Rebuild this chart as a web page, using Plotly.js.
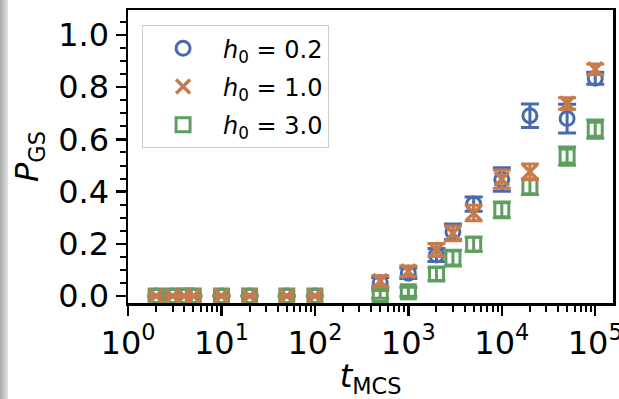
<!DOCTYPE html>
<html>
<head>
<meta charset="utf-8">
<script src="https://cdn.plot.ly/plotly-3.0.1.min.js"></script>
<style>
  html, body { margin: 0; padding: 0; }
  body {
    width: 619px; height: 399px; overflow: hidden;
    background: linear-gradient(to right, #a9a9a9 0px, #cfcfcf 5px, #e2e2e2 8px, #ffffff 8px, #ffffff 100%);
  }
  #chart { width: 619px; height: 399px; }
</style>
</head>
<body>
<div id="chart"></div>
<script>
// Monte Carlo sweeps
const tMCS = [2, 3, 4, 5, 10, 20, 50, 100, 500, 1000, 2000, 3000, 5000, 10000, 20000, 50000, 100000];

// ground-state probability for h0 = 0.2
const pGS_h02 = [0, 0, 0, 0, 0, 0, 0, 0, 0.051, 0.087, 0.157, 0.246, 0.352, 0.446, 0.691, 0.680, 0.834];
const err_h02 = [0, 0, 0, 0, 0, 0, 0, 0, 0.020, 0.020, 0.025, 0.030, 0.027, 0.045, 0.045, 0.055, 0.023];

// h0 = 1.0
const pGS_h10 = [0, 0, 0, 0, 0, 0, 0, 0, 0.057, 0.095, 0.176, 0.240, 0.318, 0.448, 0.476, 0.738, 0.869];
const err_h10 = [0, 0, 0, 0, 0, 0, 0, 0, 0.020, 0.020, 0.025, 0.028, 0.030, 0.035, 0.030, 0.022, 0.020];

// h0 = 3.0
const pGS_h30 = [0, 0, 0, 0, 0, 0, 0, 0, 0.006, 0.016, 0.084, 0.145, 0.198, 0.330, 0.419, 0.536, 0.639];
const err_h30 = [0, 0, 0, 0, 0, 0, 0, 0, 0.015, 0.017, 0.025, 0.030, 0.027, 0.030, 0.030, 0.035, 0.035];

const seriesNames = ['<i>h</i><sub>0</sub> = 0.2', '<i>h</i><sub>0</sub> = 1.0', '<i>h</i><sub>0</sub> = 3.0'];

const xTickVals = [1, 10, 100, 1000, 10000, 100000];
const xTickText = ['10<sup>0</sup>', '10<sup>1</sup>', '10<sup>2</sup>', '10<sup>3</sup>', '10<sup>4</sup>', '10<sup>5</sup>'];

const colors = { blue: '#4a6aae', orange: '#c67b4c', green: '#5f9e5f' };

// minor log ticks 2..9 in each decade
const xMinor = [];
for (let d = 0; d <= 5; d++) for (let k = 2; k <= 9; k++) xMinor.push(k * Math.pow(10, d));

function trace(y, err, name, color, symbol, size, lw, rank) {
  return {
    x: tMCS, y: y, name: name, type: 'scatter', mode: 'markers',
    legendrank: rank, legendgroup: 'g' + rank,
    marker: { symbol: symbol, size: size, color: color, line: { color: color, width: lw } },
    error_y: { type: 'data', array: err, visible: true, color: color, thickness: 3, width: 9 },
    cliponaxis: false
  };
}

const data = [
  trace(pGS_h02, err_h02, seriesNames[0], colors.blue, 'circle-open', 14, 3, 1),
  trace(pGS_h30, err_h30, seriesNames[2], colors.green, 'square-open', 14, 3, 3),
  trace(pGS_h10, err_h10, seriesNames[1], colors.orange, 'x-thin-open', 14, 3.5, 2)
];

const font = 'DejaVu Sans, sans-serif';

const layout = {
  width: 619, height: 399,
  margin: { l: 128, r: 6, t: 10, b: 96, pad: 0 },
  paper_bgcolor: 'rgba(0,0,0,0)',
  plot_bgcolor: '#ffffff',
  font: { family: font, color: '#000000', size: 32 },
  showlegend: true,
  legend: {
    x: 0.029, y: 0.948, xanchor: 'left', yanchor: 'top',
    bgcolor: 'rgba(255,255,255,0.85)', bordercolor: '#cccccc', borderwidth: 1,
    font: { family: font, size: 24, color: '#000000' },
    traceorder: 'grouped', tracegroupgap: 4, itemwidth: 70
  },
  xaxis: {
    type: 'log', range: [0, 5.19],
    tickmode: 'array', tickvals: xTickVals, ticktext: xTickText,
    ticks: 'outside', ticklen: 10, tickwidth: 2.5, tickcolor: '#000',
    showline: true, linecolor: '#000', linewidth: 2.5, mirror: true,
    showgrid: false, zeroline: false,
    ticklabeloverflow: 'allow',
    tickfont: { family: font, size: 32 },
    minor: { tickmode: 'array', tickvals: xMinor, ticks: 'outside', ticklen: 6, tickwidth: 2, tickcolor: '#000', showgrid: false },
    title: { text: '<i>t</i><sub>MCS</sub>', font: { family: font, size: 32 }, standoff: 8 },
    automargin: false
  },
  yaxis: {
    range: [-0.027, 1.096],
    tickmode: 'linear', tick0: 0, dtick: 0.2, tickformat: '.1f',
    ticks: 'outside', ticklen: 10, tickwidth: 2.5, tickcolor: '#000',
    showline: true, linecolor: '#000', linewidth: 2.5, mirror: true,
    showgrid: false, zeroline: false,
    tickfont: { family: font, size: 32 },
    minor: { dtick: 0.05, tick0: 0, ticks: 'outside', ticklen: 6, tickwidth: 2, tickcolor: '#000', showgrid: false },
    title: { text: '<i>P</i><sub>GS</sub>', font: { family: font, size: 32 }, standoff: 10 },
    automargin: false
  }
};

Plotly.newPlot('chart', data, layout, { displayModeBar: false, staticPlot: true });
</script>
</body>
</html>
